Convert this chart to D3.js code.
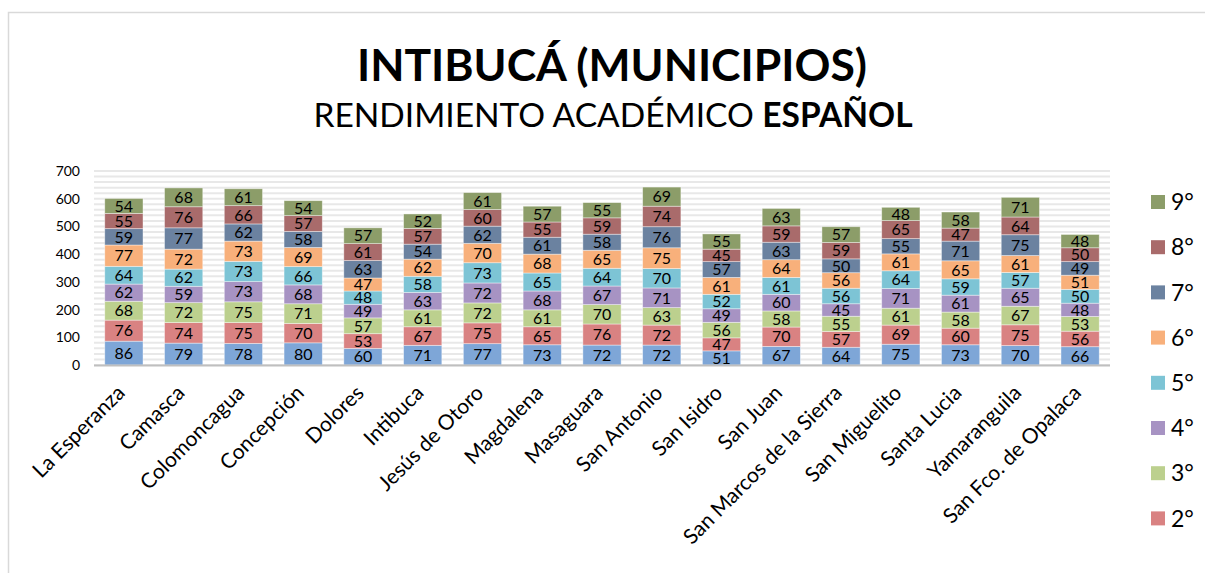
<!DOCTYPE html>
<html>
<head>
<meta charset="utf-8">
<script src="https://cdn.jsdelivr.net/npm/d3@7"></script>
<style>
  body { margin: 0; background: #fff; }
  svg { display: block; font-family: Lato, "Open Sans", sans-serif; }
</style>
</head>
<body>
<div id="chart"></div>
<script>
// municipios (categories)
var municipios = ["La Esperanza", "Camasca", "Colomoncagua", "Concepción", "Dolores", "Intibuca",
  "Jesús de Otoro", "Magdalena", "Masaguara", "San Antonio", "San Isidro", "San Juan",
  "San Marcos de la Sierra", "San Miguelito", "Santa Lucia", "Yamaranguila", "San Fco. de Opalaca"];

// one array per grado, same order as municipios
var grado1 = [86, 79, 78, 80, 60, 71, 77, 73, 72, 72, 51, 67, 64, 75, 73, 70, 66];
var grado2 = [76, 74, 75, 70, 53, 67, 75, 65, 76, 72, 47, 70, 57, 69, 60, 75, 56];
var grado3 = [68, 72, 75, 71, 57, 61, 72, 61, 70, 63, 56, 58, 55, 61, 58, 67, 53];
var grado4 = [62, 59, 73, 68, 49, 63, 72, 68, 67, 71, 49, 60, 45, 71, 61, 65, 48];
var grado5 = [64, 62, 73, 66, 48, 58, 73, 65, 64, 70, 52, 61, 56, 64, 59, 57, 50];
var grado6 = [77, 72, 73, 69, 47, 62, 70, 68, 65, 75, 61, 64, 56, 61, 65, 61, 51];
var grado7 = [59, 77, 62, 58, 63, 54, 62, 61, 58, 76, 57, 63, 50, 55, 71, 75, 49];
var grado8 = [55, 76, 66, 57, 61, 57, 60, 55, 59, 74, 45, 59, 59, 65, 47, 64, 50];
var grado9 = [54, 68, 61, 54, 57, 52, 61, 57, 55, 69, 55, 63, 57, 48, 58, 71, 48];

var grados = ["1°", "2°", "3°", "4°", "5°", "6°", "7°", "8°", "9°"];
var yTicks = [0, 100, 200, 300, 400, 500, 600, 700];

var colores = ["#7ea6d7", "#d98282", "#bcd08e", "#a793c3", "#7dc4d5", "#f8b07b", "#6b82a0", "#a96b6b", "#8c9d69"];

var W = 1205, H = 573;
var svg = d3.select("#chart").append("svg").attr("width", W).attr("height", H);

// chart frame (cut by the window on right/bottom)
svg.append("rect").attr("x", 8.5).attr("y", 12.5).attr("width", 1210).attr("height", 600)
  .attr("fill", "#fff").attr("stroke", "#d9d9d9").attr("stroke-width", 1.5);

// titles
svg.append("text").attr("x", 612).attr("y", 81).attr("text-anchor", "middle")
  .attr("font-size", 44.5).attr("font-weight", "bold").attr("fill", "#000")
  .text("INTIBUCÁ (MUNICIPIOS)");
var sub = svg.append("text").attr("x", 613).attr("y", 127).attr("text-anchor", "middle")
  .attr("font-size", 33.5).attr("fill", "#000");
sub.append("tspan").text("RENDIMIENTO ACADÉMICO ");
sub.append("tspan").attr("font-weight", "bold").text("ESPAÑOL");

// build rows for the stack
var series = [grado1, grado2, grado3, grado4, grado5, grado6, grado7, grado8, grado9];
var rows = municipios.map(function(m, i) {
  var r = { municipio: m };
  grados.forEach(function(g, k) { r[g] = series[k][i]; });
  return r;
});
var stacked = d3.stack().keys(grados)(rows);

var x = d3.scaleBand().domain(municipios).range([94, 1110]).paddingInner(0.36).paddingOuter(0.18);
var y = d3.scaleLinear().domain([0, 700]).range([365, 171]);

// faint gridlines
var grid = svg.append("g");
grid.selectAll("line").data(d3.range(0, 701, 20)).join("line")
  .attr("x1", 94).attr("x2", 1110)
  .attr("y1", function(d) { return y(d); }).attr("y2", function(d) { return y(d); })
  .attr("stroke", "#e8e8e8").attr("stroke-width", 2);

// y axis labels
var yAxis = svg.append("g").attr("transform", "translate(80,0)")
  .call(d3.axisLeft(y).tickValues(yTicks).tickSize(0).tickPadding(0));
yAxis.select(".domain").remove();
yAxis.selectAll("text").attr("font-size", 14).attr("fill", "#000").attr("font-family", "Lato, sans-serif");

// bars
var layers = svg.append("g").selectAll("g").data(stacked).join("g")
  .attr("fill", function(d, i) { return colores[i]; });
layers.selectAll("rect").data(function(d) { return d; }).join("rect")
  .attr("x", function(d) { return x(d.data.municipio); })
  .attr("width", x.bandwidth())
  .attr("y", function(d) { return y(d[1]); })
  .attr("height", function(d) { return y(d[0]) - y(d[1]); })
  .attr("stroke", "#fff").attr("stroke-opacity", 0.5).attr("stroke-width", 0.8);

// data labels
layers.selectAll("text").data(function(d) { return d; }).join("text")
  .attr("x", function(d) { return x(d.data.municipio) + x.bandwidth() / 2; })
  .attr("y", function(d) { return (y(d[0]) + y(d[1])) / 2; })
  .attr("dy", "0.36em").attr("text-anchor", "middle")
  .attr("font-size", 16).attr("fill", "#000")
  .text(function(d) { return d[1] - d[0]; });

// x axis line
svg.append("line").attr("x1", 94).attr("x2", 1110).attr("y1", 365.5).attr("y2", 365.5)
  .attr("stroke", "#bfbfbf").attr("stroke-width", 2);

// x labels rotated
var xAxis = svg.append("g").attr("transform", "translate(0,370)")
  .call(d3.axisBottom(x).tickSize(0).tickPadding(0));
xAxis.select(".domain").remove();
xAxis.selectAll("text")
  .attr("font-size", 21).attr("fill", "#000").attr("font-family", "Lato, sans-serif")
  .attr("text-anchor", "end")
  .attr("transform", "translate(-3,19) rotate(-45)")
  .attr("dy", "0.35em");

// legend (the 1° entry falls outside the visible area in the original)
var leg = svg.append("g").selectAll("g").data(grados.slice(1).reverse()).join("g")
  .attr("transform", function(d, i) { return "translate(1151," + (202 + i * 45.2) + ")"; });
leg.append("rect").attr("x", 0).attr("y", -7).attr("width", 14).attr("height", 14)
  .attr("fill", function(d) { return colores[grados.indexOf(d)]; });
leg.append("text").attr("x", 20).attr("dy", "0.36em").attr("font-size", 23).attr("fill", "#000")
  .text(function(d) { return d; });
</script>
</body>
</html>
